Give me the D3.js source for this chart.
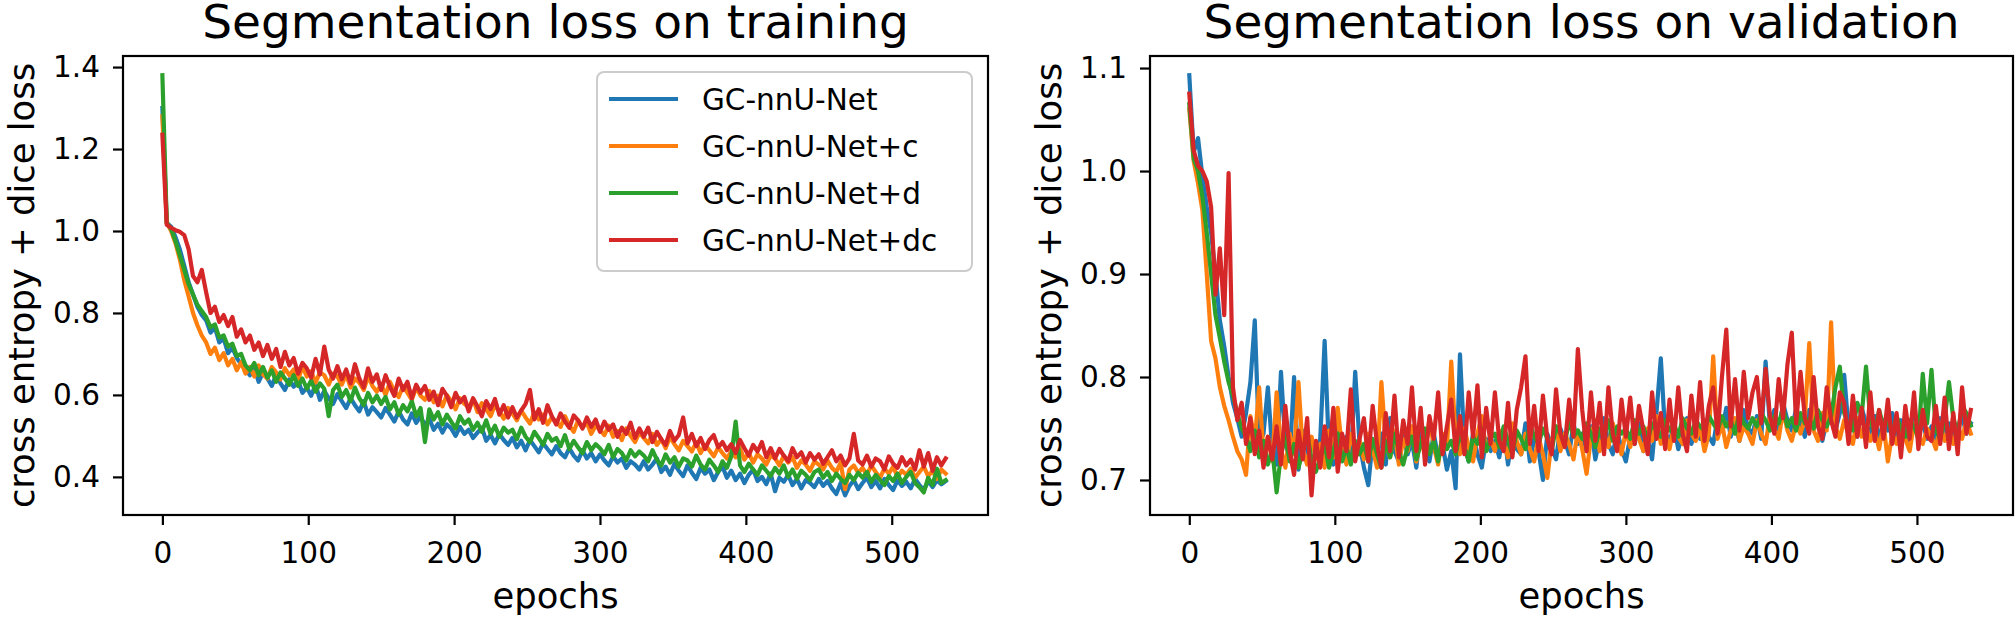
<!DOCTYPE html>
<html>
<head>
<meta charset="utf-8">
<script src="https://d3js.org/d3.v7.min.js"></script>
<style>
  body { margin: 0; background: #ffffff; }
  text { font-family: "DejaVu Sans", sans-serif; fill: #000; }
</style>
</head>
<body>
<svg id="chart" width="2016" height="620"></svg>
<script>
// epochs, read every 3rd epoch off the curves
var epochs = d3.range(0, 540, 3);

var seriesNames = ["GC-nnU-Net", "GC-nnU-Net+c", "GC-nnU-Net+d", "GC-nnU-Net+dc"];
var seriesColors = ["#1f77b4", "#ff7f0e", "#2ca02c", "#d62728"];

var xTicks = [0, 100, 200, 300, 400, 500];
var trainTicks = [0.4, 0.6, 0.8, 1.0, 1.2, 1.4];
var validTicks = [0.7, 0.8, 0.9, 1.0, 1.1];

// Segmentation loss on training
var trainBase = [
  1.300, 1.020, 1.010, 0.985, 0.955, 0.915, 0.875, 0.845, 0.815, 0.795,
  0.782, 0.752, 0.765, 0.728, 0.738, 0.702, 0.715, 0.690, 0.675, 0.662,
  0.648, 0.668, 0.632, 0.655, 0.640, 0.622, 0.650, 0.628, 0.612, 0.638,
  0.620, 0.635, 0.605, 0.618, 0.598, 0.625, 0.588, 0.610, 0.592, 0.578,
  0.602, 0.585, 0.568, 0.592, 0.575, 0.560, 0.585, 0.552, 0.570, 0.558,
  0.545, 0.568, 0.552, 0.535, 0.560, 0.540, 0.528, 0.555, 0.532, 0.548,
  0.525, 0.542, 0.515, 0.530, 0.508, 0.528, 0.518, 0.500, 0.522, 0.505,
  0.515, 0.495, 0.508, 0.520, 0.488, 0.502, 0.482, 0.505, 0.490, 0.478,
  0.495, 0.472, 0.488, 0.465, 0.490, 0.475, 0.460, 0.482, 0.468, 0.455,
  0.475, 0.458, 0.448, 0.470, 0.452, 0.440, 0.465, 0.445, 0.458, 0.438,
  0.455, 0.440, 0.428, 0.450, 0.435, 0.445, 0.422, 0.438, 0.430, 0.418,
  0.438, 0.418, 0.430, 0.445, 0.412, 0.425, 0.405, 0.432, 0.415, 0.402,
  0.428, 0.410, 0.395, 0.422, 0.408, 0.418, 0.392, 0.412, 0.425, 0.398,
  0.415, 0.392, 0.408, 0.385, 0.405, 0.418, 0.390, 0.400, 0.382, 0.408,
  0.365, 0.398, 0.388, 0.405, 0.380, 0.395, 0.372, 0.392, 0.385, 0.375,
  0.395, 0.378, 0.390, 0.372, 0.358, 0.385, 0.355, 0.378, 0.392, 0.370,
  0.385, 0.398, 0.375, 0.390, 0.372, 0.395, 0.380, 0.368, 0.392, 0.378,
  0.388, 0.372, 0.395, 0.380, 0.368, 0.390, 0.375, 0.392, 0.382, 0.390
];
var trainC = [
  1.280, 1.020, 1.000, 0.970, 0.930, 0.880, 0.840, 0.800, 0.770, 0.745,
  0.728, 0.700, 0.715, 0.685, 0.702, 0.672, 0.688, 0.660, 0.680, 0.652,
  0.668, 0.645, 0.672, 0.650, 0.640, 0.668, 0.655, 0.638, 0.665, 0.648,
  0.662, 0.635, 0.670, 0.645, 0.658, 0.630, 0.655, 0.648, 0.625, 0.652,
  0.645, 0.625, 0.650, 0.618, 0.640, 0.630, 0.612, 0.645, 0.622, 0.608,
  0.625, 0.600, 0.632, 0.610, 0.595, 0.622, 0.605, 0.588, 0.618, 0.598,
  0.588, 0.610, 0.582, 0.598, 0.572, 0.600, 0.585, 0.565, 0.592, 0.578,
  0.570, 0.590, 0.558, 0.580, 0.565, 0.548, 0.575, 0.560, 0.542, 0.568,
  0.555, 0.538, 0.562, 0.545, 0.530, 0.558, 0.540, 0.552, 0.528, 0.545,
  0.535, 0.522, 0.548, 0.525, 0.510, 0.538, 0.520, 0.532, 0.505, 0.525,
  0.515, 0.502, 0.525, 0.498, 0.512, 0.490, 0.518, 0.500, 0.485, 0.508,
  0.495, 0.482, 0.505, 0.478, 0.492, 0.470, 0.498, 0.480, 0.465, 0.488,
  0.475, 0.462, 0.485, 0.458, 0.478, 0.465, 0.450, 0.472, 0.458, 0.445,
  0.462, 0.448, 0.470, 0.442, 0.458, 0.435, 0.455, 0.445, 0.430, 0.452,
  0.445, 0.428, 0.452, 0.435, 0.448, 0.422, 0.440, 0.430, 0.415, 0.438,
  0.430, 0.418, 0.440, 0.422, 0.412, 0.435, 0.370, 0.418, 0.428, 0.410,
  0.422, 0.405, 0.428, 0.412, 0.398, 0.420, 0.408, 0.425, 0.400, 0.415,
  0.405, 0.420, 0.398, 0.412, 0.425, 0.402, 0.415, 0.395, 0.418, 0.408
];
var trainD = [
  1.380, 1.020, 1.005, 0.975, 0.940, 0.905, 0.870, 0.845, 0.820, 0.805,
  0.790, 0.765, 0.772, 0.740, 0.745, 0.718, 0.725, 0.695, 0.700, 0.672,
  0.660, 0.678, 0.648, 0.668, 0.642, 0.660, 0.632, 0.655, 0.640, 0.625,
  0.648, 0.622, 0.640, 0.615, 0.635, 0.608, 0.628, 0.615, 0.548, 0.612,
  0.625, 0.595, 0.612, 0.585, 0.618, 0.592, 0.575, 0.605, 0.582, 0.598,
  0.578, 0.595, 0.565, 0.582, 0.552, 0.575, 0.560, 0.585, 0.548, 0.568,
  0.485, 0.565, 0.540, 0.558, 0.528, 0.552, 0.535, 0.518, 0.548, 0.530,
  0.540, 0.515, 0.532, 0.510, 0.538, 0.505, 0.525, 0.498, 0.520, 0.508,
  0.515, 0.492, 0.520, 0.498, 0.485, 0.510, 0.495, 0.478, 0.505, 0.488,
  0.495, 0.475, 0.502, 0.468, 0.488, 0.472, 0.458, 0.485, 0.465, 0.480,
  0.470, 0.455, 0.478, 0.448, 0.468, 0.458, 0.440, 0.465, 0.450, 0.462,
  0.452, 0.438, 0.465, 0.442, 0.428, 0.455, 0.435, 0.448, 0.425, 0.445,
  0.440, 0.425, 0.452, 0.430, 0.418, 0.442, 0.428, 0.412, 0.438, 0.422,
  0.450, 0.535, 0.428, 0.412, 0.432, 0.418, 0.405, 0.428, 0.415, 0.402,
  0.422, 0.408, 0.428, 0.400, 0.418, 0.395, 0.415, 0.405, 0.392, 0.412,
  0.418, 0.398, 0.412, 0.390, 0.408, 0.395, 0.385, 0.405, 0.392, 0.410,
  0.398, 0.412, 0.388, 0.405, 0.392, 0.380, 0.402, 0.390, 0.408, 0.385,
  0.400, 0.412, 0.385, 0.375, 0.362, 0.398, 0.380, 0.420, 0.385, 0.392
];
var trainDC = [
  1.235, 1.015, 1.008, 1.002, 0.998, 0.990, 0.955, 0.890, 0.875, 0.905,
  0.850, 0.800, 0.815, 0.778, 0.795, 0.768, 0.790, 0.742, 0.760, 0.728,
  0.745, 0.710, 0.728, 0.695, 0.722, 0.688, 0.712, 0.668, 0.705, 0.672,
  0.690, 0.652, 0.678, 0.665, 0.642, 0.688, 0.650, 0.718, 0.662, 0.640,
  0.670, 0.638, 0.662, 0.628, 0.675, 0.640, 0.618, 0.665, 0.632, 0.650,
  0.612, 0.648, 0.620, 0.598, 0.640, 0.612, 0.632, 0.592, 0.625, 0.605,
  0.622, 0.588, 0.608, 0.575, 0.615, 0.598, 0.570, 0.605, 0.582, 0.595,
  0.560, 0.592, 0.572, 0.548, 0.585, 0.565, 0.590, 0.552, 0.575, 0.545,
  0.570, 0.545, 0.562, 0.578, 0.612, 0.540, 0.565, 0.532, 0.575, 0.548,
  0.528, 0.555, 0.535, 0.520, 0.550, 0.538, 0.518, 0.545, 0.522, 0.540,
  0.510, 0.535, 0.515, 0.528, 0.498, 0.520, 0.505, 0.532, 0.495, 0.518,
  0.498, 0.520, 0.485, 0.510, 0.492, 0.478, 0.512, 0.488, 0.502, 0.545,
  0.482, 0.505, 0.475, 0.495, 0.468, 0.490, 0.502, 0.472, 0.485, 0.465,
  0.480, 0.458, 0.490, 0.470, 0.452, 0.478, 0.462, 0.485, 0.448, 0.470,
  0.445, 0.468, 0.452, 0.438, 0.470, 0.448, 0.460, 0.435, 0.458, 0.442,
  0.455, 0.432, 0.448, 0.465, 0.438, 0.452, 0.428, 0.445, 0.505, 0.440,
  0.430, 0.452, 0.425, 0.445, 0.438, 0.418, 0.450, 0.432, 0.422, 0.448,
  0.428, 0.442, 0.418, 0.465, 0.425, 0.458, 0.415, 0.448, 0.428, 0.445
];

// Segmentation loss on validation
var validBase = [
  1.093, 1.018, 1.032, 0.995, 0.965, 0.940, 0.900, 0.855, 0.830, 0.800,
  0.775, 0.760, 0.742, 0.765, 0.795, 0.855, 0.735, 0.745, 0.790, 0.728,
  0.715, 0.805, 0.735, 0.722, 0.800, 0.710, 0.748, 0.730, 0.712, 0.725,
  0.740, 0.835, 0.728, 0.715, 0.752, 0.725, 0.742, 0.718, 0.805, 0.735,
  0.712, 0.695, 0.738, 0.722, 0.745, 0.715, 0.760, 0.728, 0.718, 0.742,
  0.725, 0.738, 0.712, 0.750, 0.730, 0.718, 0.745, 0.722, 0.735, 0.710,
  0.728, 0.692, 0.822, 0.735, 0.718, 0.745, 0.725, 0.712, 0.740, 0.728,
  0.738, 0.722, 0.750, 0.715, 0.742, 0.730, 0.725, 0.755, 0.718, 0.740,
  0.728, 0.700, 0.745, 0.732, 0.720, 0.750, 0.738, 0.725, 0.755, 0.735,
  0.745, 0.728, 0.752, 0.720, 0.740, 0.760, 0.735, 0.725, 0.748, 0.730,
  0.718, 0.742, 0.735, 0.755, 0.728, 0.740, 0.720, 0.765, 0.818, 0.745,
  0.738, 0.752, 0.730, 0.745, 0.760, 0.735, 0.748, 0.740, 0.758, 0.742,
  0.735, 0.760, 0.748, 0.770, 0.742, 0.755, 0.738, 0.768, 0.750, 0.745,
  0.762, 0.740, 0.815, 0.752, 0.768, 0.745, 0.775, 0.758, 0.748, 0.770,
  0.755, 0.742, 0.768, 0.750, 0.762, 0.738, 0.758, 0.772, 0.748, 0.765,
  0.802, 0.750, 0.765, 0.742, 0.770, 0.755, 0.745, 0.762, 0.738, 0.758,
  0.748, 0.765, 0.740, 0.758, 0.752, 0.735, 0.762, 0.745, 0.755, 0.740,
  0.752, 0.738, 0.760, 0.745, 0.755, 0.740, 0.750, 0.762, 0.745, 0.755
];
var validC = [
  1.060, 1.010, 0.988, 0.962, 0.900, 0.835, 0.818, 0.790, 0.772, 0.758,
  0.742, 0.728, 0.720, 0.705, 0.762, 0.738, 0.790, 0.725, 0.742, 0.718,
  0.785, 0.730, 0.712, 0.745, 0.725, 0.795, 0.728, 0.715, 0.742, 0.720,
  0.735, 0.712, 0.748, 0.722, 0.770, 0.730, 0.715, 0.745, 0.728, 0.738,
  0.720, 0.745, 0.730, 0.712, 0.795, 0.735, 0.722, 0.748, 0.715, 0.740,
  0.728, 0.752, 0.718, 0.738, 0.725, 0.760, 0.732, 0.715, 0.745, 0.730,
  0.815, 0.740, 0.725, 0.750, 0.732, 0.718, 0.745, 0.762, 0.728, 0.740,
  0.728, 0.748, 0.735, 0.722, 0.755, 0.738, 0.725, 0.745, 0.730, 0.718,
  0.742, 0.725, 0.702, 0.738, 0.752, 0.728, 0.745, 0.735, 0.720, 0.748,
  0.730, 0.706, 0.742, 0.758, 0.728, 0.745, 0.732, 0.755, 0.738, 0.725,
  0.748, 0.732, 0.755, 0.740, 0.728, 0.750, 0.738, 0.762, 0.735, 0.745,
  0.730, 0.752, 0.742, 0.735, 0.758, 0.745, 0.738, 0.752, 0.728, 0.745,
  0.820, 0.740, 0.755, 0.732, 0.748, 0.760, 0.738, 0.752, 0.745, 0.735,
  0.758, 0.745, 0.735, 0.762, 0.750, 0.740, 0.768, 0.748, 0.738, 0.755,
  0.745, 0.760, 0.833, 0.748, 0.738, 0.765, 0.748, 0.853, 0.752, 0.740,
  0.758, 0.745, 0.735, 0.760, 0.742, 0.752, 0.738, 0.748, 0.730, 0.755,
  0.718, 0.745, 0.735, 0.752, 0.740, 0.728, 0.755, 0.742, 0.735, 0.750,
  0.742, 0.730, 0.755, 0.738, 0.748, 0.735, 0.752, 0.740, 0.758, 0.745
];
var validD = [
  1.065, 1.012, 1.000, 0.975, 0.940, 0.900, 0.860, 0.838, 0.815, 0.795,
  0.782, 0.765, 0.750, 0.742, 0.728, 0.748, 0.722, 0.738, 0.715, 0.730,
  0.688, 0.725, 0.742, 0.718, 0.735, 0.712, 0.728, 0.745, 0.720, 0.708,
  0.722, 0.735, 0.712, 0.728, 0.745, 0.718, 0.732, 0.715, 0.738, 0.725,
  0.735, 0.718, 0.740, 0.725, 0.712, 0.738, 0.722, 0.745, 0.728, 0.715,
  0.732, 0.742, 0.720, 0.735, 0.750, 0.725, 0.738, 0.718, 0.742, 0.730,
  0.738, 0.725, 0.745, 0.732, 0.718, 0.742, 0.735, 0.750, 0.728, 0.740,
  0.745, 0.732, 0.752, 0.738, 0.725, 0.748, 0.740, 0.730, 0.755, 0.742,
  0.735, 0.750, 0.740, 0.728, 0.752, 0.745, 0.735, 0.758, 0.742, 0.748,
  0.740, 0.755, 0.745, 0.732, 0.750, 0.742, 0.758, 0.738, 0.752, 0.745,
  0.750, 0.740, 0.758, 0.745, 0.752, 0.738, 0.755, 0.748, 0.742, 0.758,
  0.748, 0.755, 0.742, 0.760, 0.750, 0.745, 0.758, 0.752, 0.748, 0.762,
  0.755, 0.748, 0.762, 0.752, 0.758, 0.745, 0.765, 0.755, 0.750, 0.760,
  0.752, 0.765, 0.758, 0.748, 0.762, 0.755, 0.770, 0.752, 0.760, 0.748,
  0.765, 0.755, 0.760, 0.750, 0.768, 0.758, 0.752, 0.762, 0.790, 0.810,
  0.765, 0.752, 0.748, 0.775, 0.762, 0.810, 0.758, 0.745, 0.768, 0.752,
  0.758, 0.745, 0.762, 0.750, 0.742, 0.758, 0.752, 0.740, 0.803, 0.755,
  0.807, 0.748, 0.740, 0.758, 0.795, 0.760, 0.745, 0.772, 0.765, 0.753
];
var validDC = [
  1.075, 1.020, 1.005, 1.000, 0.990, 0.965, 0.880, 0.925, 0.860, 0.998,
  0.790, 0.758, 0.775, 0.735, 0.760, 0.725, 0.748, 0.712, 0.742, 0.720,
  0.752, 0.715, 0.772, 0.728, 0.705, 0.748, 0.720, 0.760, 0.685, 0.738,
  0.712, 0.752, 0.722, 0.770, 0.708, 0.745, 0.728, 0.788, 0.718, 0.740,
  0.760, 0.718, 0.772, 0.735, 0.712, 0.765, 0.728, 0.782, 0.722, 0.758,
  0.735, 0.790, 0.728, 0.770, 0.715, 0.762, 0.740, 0.785, 0.725, 0.752,
  0.778, 0.728, 0.762, 0.725, 0.785, 0.742, 0.792, 0.722, 0.770, 0.735,
  0.785, 0.738, 0.728, 0.775, 0.722, 0.768, 0.790, 0.820, 0.735, 0.772,
  0.728, 0.782, 0.740, 0.725, 0.788, 0.745, 0.732, 0.778, 0.742, 0.827,
  0.768, 0.728, 0.785, 0.738, 0.775, 0.725, 0.790, 0.745, 0.728, 0.778,
  0.742, 0.780, 0.735, 0.772, 0.748, 0.725, 0.785, 0.740, 0.765, 0.730,
  0.778, 0.738, 0.790, 0.745, 0.728, 0.782, 0.742, 0.795, 0.738, 0.772,
  0.790, 0.745, 0.800, 0.846, 0.752, 0.798, 0.748, 0.805, 0.760, 0.785,
  0.800, 0.755, 0.808, 0.762, 0.745, 0.798, 0.760, 0.812, 0.843, 0.755,
  0.805, 0.760, 0.745, 0.800, 0.752, 0.740, 0.790, 0.758, 0.742, 0.785,
  0.775, 0.735, 0.782, 0.742, 0.770, 0.732, 0.785, 0.738, 0.768, 0.740,
  0.778, 0.735, 0.765, 0.722, 0.772, 0.740, 0.785, 0.730, 0.768, 0.742,
  0.738, 0.772, 0.735, 0.780, 0.730, 0.765, 0.725, 0.790, 0.745, 0.768
];

var svg = d3.select("#chart");
svg.append("rect").attr("width", 2016).attr("height", 620).attr("fill", "#ffffff");

// one panel = frame, axes, lines, title
function drawPanel(p) {
  var x = d3.scaleLinear().domain([-27, 566]).range([p.left, p.right]);
  var y = d3.scaleLinear().domain(p.yDomain).range([p.bottom, p.top]);

  var clipId = "clip" + p.id;
  svg.append("clipPath").attr("id", clipId)
    .append("rect")
    .attr("x", p.left).attr("y", p.top)
    .attr("width", p.right - p.left).attr("height", p.bottom - p.top);

  var line = d3.line()
    .x((d, i) => x(epochs[i]))
    .y(d => y(d));

  var g = svg.append("g").attr("clip-path", "url(#" + clipId + ")");
  p.series.forEach((vals, i) => {
    g.append("path")
      .attr("d", line(vals))
      .attr("fill", "none")
      .attr("stroke", seriesColors[i])
      .attr("stroke-width", 4.2)
      .attr("stroke-linejoin", "round")
      .attr("stroke-linecap", "square");
  });

  // x axis
  var xAxis = svg.append("g")
    .attr("transform", "translate(0," + p.bottom + ")")
    .call(d3.axisBottom(x).tickValues(xTicks).tickSize(10).tickPadding(17));

  // y axis
  var yAxis = svg.append("g")
    .attr("transform", "translate(" + p.left + ",0)")
    .call(d3.axisLeft(y).tickValues(p.yTicks).tickFormat(d3.format(".1f")).tickSize(10).tickPadding(13));

  [xAxis, yAxis].forEach(a => {
    a.select(".domain").remove();
    a.selectAll(".tick line").attr("stroke", "#000").attr("stroke-width", 2.2);
    a.selectAll(".tick text")
      .attr("fill", "#000")
      .style("font-family", "DejaVu Sans")
      .style("font-size", "29.5px");
  });

  // frame
  svg.append("rect")
    .attr("x", p.left).attr("y", p.top)
    .attr("width", p.right - p.left).attr("height", p.bottom - p.top)
    .attr("fill", "none")
    .attr("stroke", "#000")
    .attr("stroke-width", 2.2);

  // title and labels
  svg.append("text")
    .attr("x", (p.left + p.right) / 2)
    .attr("y", 38)
    .attr("text-anchor", "middle")
    .style("font-size", "47px")
    .text(p.title);

  svg.append("text")
    .attr("x", (p.left + p.right) / 2)
    .attr("y", 608)
    .attr("text-anchor", "middle")
    .style("font-size", "35.4px")
    .text("epochs");

  svg.append("text")
    .attr("transform", "translate(" + (p.left - 89) + "," + ((p.top + p.bottom) / 2) + ") rotate(-90)")
    .attr("text-anchor", "middle")
    .style("font-size", "35.4px")
    .text("cross entropy + dice loss");
}

drawPanel({
  id: 1, left: 123, right: 988, top: 56, bottom: 515,
  yDomain: [0.307, 1.427], yTicks: trainTicks,
  title: "Segmentation loss on training",
  series: [trainBase, trainC, trainD, trainDC]
});

drawPanel({
  id: 2, left: 1150, right: 2013, top: 56, bottom: 515,
  yDomain: [0.666, 1.1117], yTicks: validTicks,
  title: "Segmentation loss on validation",
  series: [validBase, validC, validD, validDC]
});

// legend (training panel only)
var legend = svg.append("g");
legend.append("rect")
  .attr("x", 597).attr("y", 72)
  .attr("width", 375).attr("height", 199)
  .attr("rx", 7)
  .attr("fill", "#ffffff").attr("fill-opacity", 0.8)
  .attr("stroke", "#cccccc").attr("stroke-width", 2);

seriesNames.forEach((name, i) => {
  var ly = 99 + i * 47;
  legend.append("line")
    .attr("x1", 609).attr("x2", 678)
    .attr("y1", ly).attr("y2", ly)
    .attr("stroke", seriesColors[i])
    .attr("stroke-width", 4.2);
  legend.append("text")
    .attr("x", 702).attr("y", ly + 10.5)
    .style("font-size", "29.5px")
    .text(name);
});
</script>
</body>
</html>
